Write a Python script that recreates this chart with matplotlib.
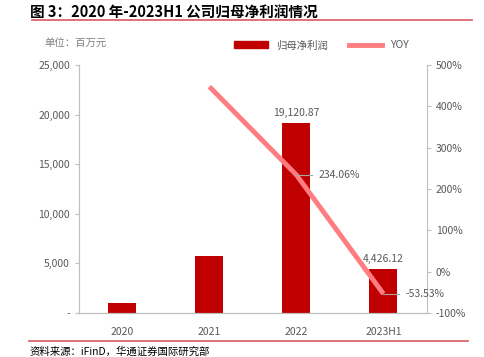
import matplotlib
matplotlib.use("Agg")
import matplotlib.pyplot as plt
from matplotlib.ticker import FuncFormatter
from matplotlib.lines import Line2D
from matplotlib.patches import Patch

plt.rcParams['font.family'] = ['Noto Sans CJK SC', 'DejaVu Sans']

years = ["2020", "2021", "2022", "2023H1"]
profit = [1050, 5750, 19120.87, 4426.12]
yoy_years = ["2021", "2022", "2023H1"]
yoy = [447.6, 234.06, -53.53]

bar_color = "#C00000"
line_color = "#FF7C80"
gray = "#595959"
axis_gray = "#BFBFBF"

fig = plt.figure(figsize=(4.84, 3.57), dpi=100)
ax = fig.add_axes([0.163, 0.1232, 0.719, 0.6948])
ax2 = ax.twinx()

x = list(range(len(years)))
ax.bar(x, profit, width=0.32, color=bar_color, zorder=2)
ax.set_xlim(-0.5, 3.5)
ax.set_ylim(0, 25000)
ax.set_yticks(range(0, 25001, 5000))
ax.yaxis.set_major_formatter(FuncFormatter(lambda v, p: "-" if v == 0 else f"{int(v):,}"))
ax.set_xticks(x)
ax.set_xticklabels(years)

xi = [years.index(y) for y in yoy_years]
ax2.plot(xi, [v / 100 for v in yoy], color=line_color, lw=3.5, solid_capstyle="butt", zorder=3)
ax2.set_ylim(-1, 5)
ax2.set_yticks([-1, 0, 1, 2, 3, 4, 5])
ax2.yaxis.set_major_formatter(FuncFormatter(lambda v, p: f"{v * 100:.0f}%"))

for a in (ax, ax2):
    for s in a.spines.values():
        s.set_color(axis_gray)
    a.spines["top"].set_visible(False)
    a.tick_params(colors=gray, labelsize=7.5, length=3, width=0.8)
    a.tick_params(axis="y", color=axis_gray)
ax.tick_params(axis="x", length=0, pad=10)
ax.spines["right"].set_visible(False)

# data labels on the last two bars
for i in (2, 3):
    ax.text(x[i], profit[i] + 500, f"{profit[i]:,.2f}", ha="center", va="bottom",
            fontsize=7.5, color=gray)

# yoy labels with leader lines
for i, v in zip(xi, yoy):
    if v in (234.06, -53.53):
        ax2.plot([i, i + 0.18], [v / 100, v / 100], color="#A6A6A6", lw=0.8, zorder=4)
        ax2.text(i + 0.25, v / 100, f"{v:.2f}%", ha="left", va="center", fontsize=7.5, color=gray)

# title, rules and notes
fig.text(0.062, 0.988, "图 3：2020 年-2023H1 公司归母净利润情况", fontsize=10.5, fontweight="bold",
         color="#000000", ha="left", va="top")
fig.add_artist(Line2D([0.066, 0.975], [0.944, 0.944], color="#D9595E", lw=1.2))
fig.add_artist(Line2D([0.060, 0.967], [0.044, 0.044], color="#D9595E", lw=1.2))
fig.text(0.06, 0.0, "资料来源：iFinD，华通证券国际研究部", fontsize=7.5, color="#000000",
         ha="left", va="bottom")
fig.text(0.091, 0.876, "单位：百万元", fontsize=7.5, color="#808080", ha="left", va="center")

handles = [Patch(color=bar_color), Line2D([], [], color=line_color, lw=3.5)]
fig.legend(handles, ["归母净利润", "YOY"], loc="center", bbox_to_anchor=(0.665, 0.873),
           ncol=2, frameon=False, fontsize=7.5, handlelength=3.2, handleheight=0.6,
           columnspacing=2.0, labelcolor=gray)

fig.savefig("out.png", dpi=100)
